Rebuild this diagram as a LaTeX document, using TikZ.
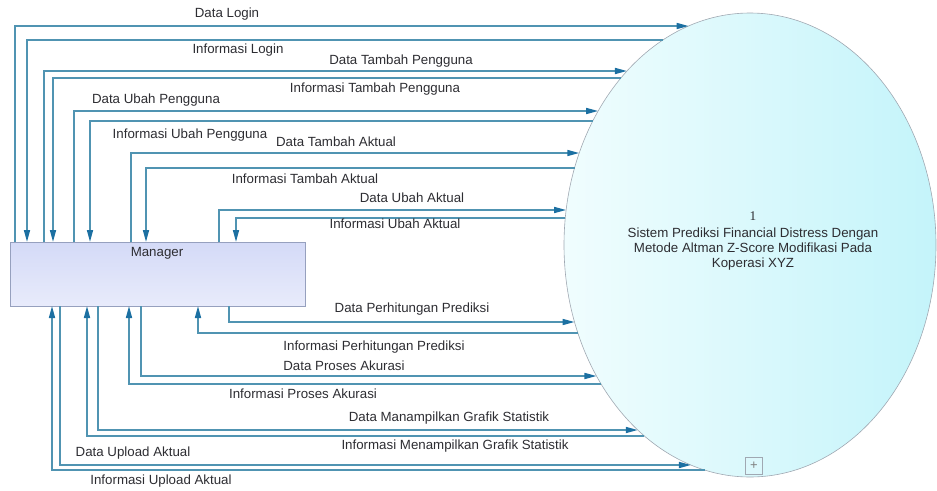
\documentclass[tikz,border=0pt]{standalone}
\usepackage{fontspec}
\setmainfont{Liberation Sans}
\usetikzlibrary{shapes.geometric,arrows.meta,calc}
\definecolor{flowc}{RGB}{80,148,178}
\definecolor{tipc}{RGB}{28,112,162}
\definecolor{txtc}{RGB}{45,45,50}
\definecolor{elborder}{RGB}{160,168,178}
\definecolor{elA}{RGB}{240,253,254}
\definecolor{elB}{RGB}{196,244,250}
\definecolor{bxborder}{RGB}{150,160,190}
\definecolor{bxA}{RGB}{212,218,247}
\definecolor{bxB}{RGB}{232,235,251}
\begin{document}
\begin{tikzpicture}[x=1pt,y=-1pt,
  flow/.style={draw=flowc,line width=1.6pt},
  tipped/.style={-{Triangle[length=12pt,width=6pt,color=tipc]}},
  lbl/.style={font=\fontsize{13.3}{15}\selectfont,text=txtc,inner sep=0pt}]
\useasboundingbox (0,0) rectangle (937,490);

% process
\node[ellipse,draw=elborder,line width=0.6pt,left color=elA,right color=elB,
      minimum width=372pt,minimum height=464pt,inner sep=0pt,outer sep=0pt] (proc) at (750,245) {};
\node[lbl,align=center] (proctext) at (753,241)
  {{\fontspec{Liberation Serif}1}\\[2pt]Sistem Prediksi Financial Distress Dengan\\Metode Altman Z-Score Modifikasi Pada\\Koperasi XYZ};
\node[draw=elborder,fill=elB!60!white,minimum size=17pt,inner sep=0pt,text=gray,
      font=\fontsize{13}{13}\selectfont] (plus) at (754,466) {+};

% external entity
\node[draw=bxborder,line width=0.6pt,top color=bxA,bottom color=bxB,
      minimum width=295pt,minimum height=64pt,inner sep=0pt,outer sep=0pt,anchor=north west] (manager) at (10,242) {};
\node[lbl] (managerlbl) at (157,253) {Manager};

% top data flows (manager -> process)
\foreach \xv/\yh/\lx/\ly/\txt [count=\i] in {
  15/26/227/14/Data Login,
  44/71/401/61/Data Tambah Pengguna,
  74/111/156/100/Data Ubah Pengguna,
  131/153/336/142/Data Tambah Aktual,
  219/210/412/198/Data Ubah Aktual}{
  \pgfmathsetmacro\bx{750-186*sqrt(1-((\yh-245)/232)^2)}
  \coordinate (ptd\i) at (\bx,\yh);
  \draw[flow,tipped] (\xv,0 |- manager.north) |- (ptd\i);
  \node[lbl] (ltd\i) at (\lx,\ly) {\txt};
}
% top information flows (process -> manager)
\foreach \xv/\yh/\lx/\ly/\txt [count=\i] in {
  27/40/238/50/Informasi Login,
  53/78/375/89/Informasi Tambah Pengguna,
  90/121/190/135/Informasi Ubah Pengguna,
  146/168/305/179/Informasi Tambah Aktual,
  236/218/395/224/Informasi Ubah Aktual}{
  \pgfmathsetmacro\bx{750-186*sqrt(1-((\yh-245)/232)^2)}
  \coordinate (pti\i) at (\bx,\yh);
  \draw[flow,tipped] (pti\i) -| (\xv,0 |- manager.north);
  \node[lbl] (lti\i) at (\lx,\ly) {\txt};
}
% bottom data flows
\foreach \xv/\yh/\lx/\ly/\txt [count=\i] in {
  229/322/412/309/Data Perhitungan Prediksi,
  141/376/344/366/Data Proses Akurasi,
  98/430/449/418/Data Manampilkan Grafik Statistik,
  60/465/133/453/Data Upload Aktual}{
  \pgfmathsetmacro\bx{750-186*sqrt(1-((\yh-245)/232)^2)}
  \coordinate (pbd\i) at (\bx,\yh);
  \draw[flow,tipped] (\xv,0 |- manager.south) |- (pbd\i);
  \node[lbl] (lbd\i) at (\lx,\ly) {\txt};
}
% bottom information flows
\foreach \xv/\yh/\lx/\ly/\txt [count=\i] in {
  198/333/374/347/Informasi Perhitungan Prediksi,
  129/384/303/394/Informasi Proses Akurasi,
  87/436/455/446/Informasi Menampilkan Grafik Statistik,
  52/470/161/481/Informasi Upload Aktual}{
  \pgfmathsetmacro\bx{750-186*sqrt(1-((\yh-245)/232)^2)}
  \coordinate (pbi\i) at (\bx,\yh);
  \draw[flow,tipped] (pbi\i) -| (\xv,0 |- manager.south);
  \node[lbl] (lbi\i) at (\lx,\ly) {\txt};
}
\end{tikzpicture}
\end{document}
